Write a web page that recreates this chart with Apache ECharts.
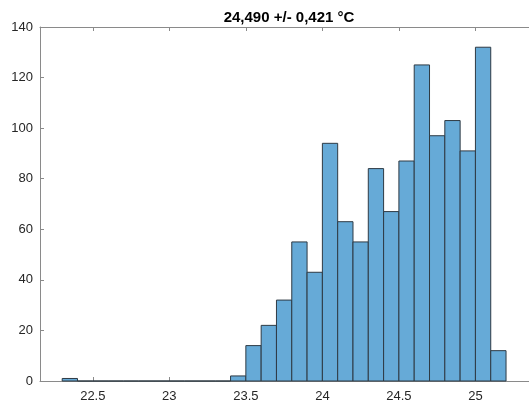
<!DOCTYPE html>
<html>
<head>
<meta charset="utf-8">
<script src="https://cdn.jsdelivr.net/npm/echarts@6/dist/echarts.min.js"></script>
<style>
  html, body { margin: 0; padding: 0; background: #fff; }
  #chart { width: 529px; height: 403px; }
</style>
</head>
<body>
<div id="chart"></div>
<script>
var titleText = '24,490 +/- 0,421 °C';

// histogram bins (left edges, width 0.1) and their counts
var binLeft = [22.3, 22.4, 22.5, 22.6, 22.7, 22.8, 22.9, 23.0, 23.1, 23.2, 23.3,
               23.4, 23.5, 23.6, 23.7, 23.8, 23.9, 24.0, 24.1, 24.2, 24.3,
               24.4, 24.5, 24.6, 24.7, 24.8, 24.9, 25.0, 25.1];
var binRight = [22.4, 22.5, 22.6, 22.7, 22.8, 22.9, 23.0, 23.1, 23.2, 23.3, 23.4,
                23.5, 23.6, 23.7, 23.8, 23.9, 24.0, 24.1, 24.2, 24.3, 24.4,
                24.5, 24.6, 24.7, 24.8, 24.9, 25.0, 25.1, 25.2];
var counts = [1, 0, 0, 0, 0, 0, 0, 0, 0, 0, 0,
              2, 14, 22, 32, 55, 43, 94, 63, 55, 84,
              67, 87, 125, 97, 103, 91, 132, 12];

var xTicks = [22.5, 23, 23.5, 24, 24.5, 25];

var histData = binLeft.map(function (x0, i) {
    return [x0, binRight[i], counts[i]];
});

var axisGray = '#8a8a8a';
var labelColor = '#262626';

var chart = echarts.init(document.getElementById('chart'));

var option = {
    animation: false,
    backgroundColor: '#fff',
    title: {
        text: titleText,
        left: 284,
        textAlign: 'center',
        top: 5,
        textStyle: {
            fontFamily: 'Liberation Sans, Arial, sans-serif',
            fontSize: 15,
            fontWeight: 'bold',
            color: '#000'
        }
    },
    grid: {
        left: 40,
        right: 0,
        top: 27,
        bottom: 22
    },
    xAxis: [{
        type: 'value',
        min: 22.155,
        max: 25.35,
        position: 'bottom',
        splitLine: { show: false },
        axisLine: { lineStyle: { color: axisGray, width: 1 } },
        axisTick: {
            inside: true,
            length: 4,
            customValues: xTicks,
            lineStyle: { color: axisGray }
        },
        axisLabel: {
            customValues: xTicks,
            margin: 9,
            color: labelColor,
            fontSize: 13,
            fontFamily: 'Liberation Sans, Arial, sans-serif'
        }
    }, {
        type: 'value',
        min: 22.155,
        max: 25.35,
        position: 'top',
        splitLine: { show: false },
        axisLine: { show: true, lineStyle: { color: axisGray, width: 1 } },
        axisTick: {
            inside: true,
            length: 4,
            customValues: xTicks,
            lineStyle: { color: axisGray }
        },
        axisLabel: { show: false }
    }],
    yAxis: {
        type: 'value',
        min: 0,
        max: 140,
        interval: 20,
        splitLine: { show: false },
        axisLine: { show: true, lineStyle: { color: axisGray, width: 1 } },
        axisTick: {
            show: true,
            inside: true,
            length: 4,
            lineStyle: { color: axisGray }
        },
        axisLabel: {
            margin: 7,
            color: labelColor,
            fontSize: 13,
            fontFamily: 'Liberation Sans, Arial, sans-serif'
        }
    },
    series: [{
        type: 'custom',
        xAxisIndex: 0,
        data: histData,
        encode: { x: [0, 1], y: 2 },
        renderItem: function (params, api) {
            var x0 = api.value(0), x1 = api.value(1), y = api.value(2);
            var p0 = api.coord([x0, y]);
            var p1 = api.coord([x1, 0]);
            return {
                type: 'rect',
                shape: {
                    x: p0[0],
                    y: p0[1],
                    width: p1[0] - p0[0],
                    height: p1[1] - p0[1]
                },
                style: {
                    fill: '#66aad7',
                    stroke: '#2e3a44',
                    lineWidth: 1
                }
            };
        }
    }]
};

chart.setOption(option);
</script>
</body>
</html>
